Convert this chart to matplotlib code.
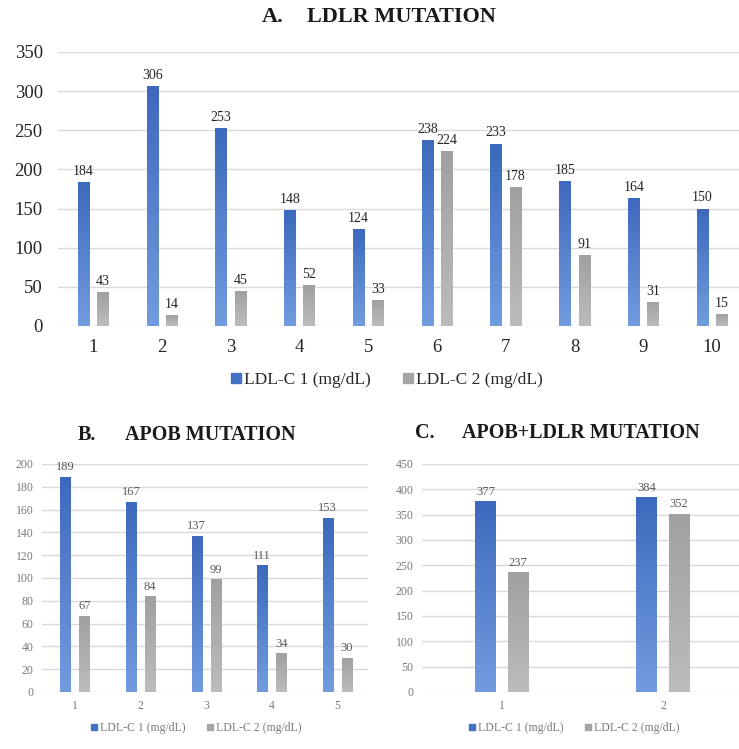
import numpy as np
import matplotlib
matplotlib.use("Agg")
import matplotlib.pyplot as plt
from matplotlib.colors import LinearSegmentedColormap

plt.rcParams['font.family'] = ['Liberation Serif', 'DejaVu Serif']

# ---- data ----
a_cats = ['1', '2', '3', '4', '5', '6', '7', '8', '9', '10']
a_ldl1 = [184, 306, 253, 148, 124, 238, 233, 185, 164, 150]
a_ldl2 = [43, 14, 45, 52, 33, 224, 178, 91, 31, 15]

b_cats = ['1', '2', '3', '4', '5']
b_ldl1 = [189, 167, 137, 111, 153]
b_ldl2 = [67, 84, 99, 34, 30]

c_cats = ['1', '2']
c_ldl1 = [377, 384]
c_ldl2 = [237, 352]

series_names = ['LDL-C 1 (mg/dL)', 'LDL-C 2 (mg/dL)']

BLUE = '#4472c4'
GRAY = '#a5a5a5'
blue_cmap = LinearSegmentedColormap.from_list('b', ['#729cdf', '#3c69bd'])
gray_cmap = LinearSegmentedColormap.from_list('g', ['#bcbcbc', '#a0a0a0'])
GRID = '#d9d9d9'


def gradient_bars(ax, x, h, width, cmap):
    bars = ax.bar(x, h, width, color='none', edgecolor='none', zorder=3)
    grad = np.linspace(0, 1, 256).reshape(-1, 1)
    for b in bars:
        x0, y0 = b.get_x(), b.get_y()
        w, hh = b.get_width(), b.get_height()
        im = ax.imshow(grad, cmap=cmap, origin='lower', aspect='auto',
                       extent=[x0, x0 + w, y0, y0 + hh], zorder=3)
        im.set_clip_path(b)
    return bars


def panel(ax, cats, v1, v2, ymax, step, xlim, off, width,
          tick_fs, val_fs, tick_col, val_col, ypad, xpad):
    x = np.arange(1, len(cats) + 1)
    gradient_bars(ax, x - off, v1, width, blue_cmap)
    gradient_bars(ax, x + off, v2, width, gray_cmap)
    for xi, a, b in zip(x, v1, v2):
        ax.text(xi - off, a + ymax * 0.015, str(a), ha='center', va='bottom',
                fontsize=val_fs, color=val_col, zorder=4)
        ax.text(xi + off, b + ymax * 0.015, str(b), ha='center', va='bottom',
                fontsize=val_fs, color=val_col, zorder=4)
    ax.set_xlim(*xlim)
    ax.set_ylim(0, ymax)
    ax.set_yticks(np.arange(0, ymax + 1, step))
    ax.set_xticks(x)
    ax.set_xticklabels(cats)
    ax.grid(axis='y', color=GRID, linewidth=1, zorder=0)
    ax.set_axisbelow(True)
    for s in ax.spines.values():
        s.set_visible(False)
    ax.tick_params(axis='both', length=0, labelsize=tick_fs, labelcolor=tick_col)
    ax.tick_params(axis='y', pad=ypad)
    ax.tick_params(axis='x', pad=xpad)


def legend(fig, x, y, fs, col, msize):
    handles = [plt.Line2D([], [], marker='s', linestyle='none', markersize=msize,
                          color=BLUE),
               plt.Line2D([], [], marker='s', linestyle='none', markersize=msize,
                          color=GRAY)]
    fig.legend(handles, series_names, loc='center', bbox_to_anchor=(x, y),
               ncol=2, frameon=False, fontsize=fs, labelcolor=col,
               handletextpad=0.0, columnspacing=1.6, handlelength=1.0)


fig = plt.figure(figsize=(7.39, 7.49), dpi=100)
W, H = 739, 749


def axes_px(l, r, top, bottom):
    return fig.add_axes([l / W, (H - bottom) / H, (r - l) / W, (bottom - top) / H])


# A. LDLR
axA = axes_px(58, 739, 52, 326)
panel(axA, a_cats, a_ldl1, a_ldl2, 350, 50, (0.491, 10.39), 0.14, 0.165,
      13.5, 10, '#262626', '#262626', 11, 9)
fig.text(262 / W, 1 - 17 / H, 'A.', ha='left', va='center',
         fontsize=16, fontweight='bold', color='#1a1a1a')
fig.text(401 / W, 1 - 17 / H, 'LDLR MUTATION', ha='center', va='center',
         fontsize=16, fontweight='bold', color='#1a1a1a')
legend(fig, 385 / W, 1 - 380 / H, 12.5, '#262626', 7)

# B. APOB
axB = axes_px(42, 368, 464, 692)
panel(axB, b_cats, b_ldl1, b_ldl2, 200, 20, (0.496, 5.47), 0.145, 0.155,
      8.5, 9, '#7a7a7a', '#595959', 6, 6)
fig.text(78 / W, 1 - 435 / H, 'B.', ha='left', va='center',
         fontsize=14.5, fontweight='bold', color='#1a1a1a')
fig.text(210 / W, 1 - 435 / H, 'APOB MUTATION', ha='center', va='center',
         fontsize=14.5, fontweight='bold', color='#1a1a1a')
legend(fig, 195 / W, 1 - 728 / H, 8.5, '#7a7a7a', 5)

# C. APOB+LDLR
axC = axes_px(422, 739, 464, 692)
panel(axC, c_cats, c_ldl1, c_ldl2, 450, 50, (0.503, 2.472), 0.1, 0.13,
      8.5, 9, '#7a7a7a', '#595959', 6, 6)
fig.text(415 / W, 1 - 433 / H, 'C.', ha='left', va='center',
         fontsize=14.5, fontweight='bold', color='#1a1a1a')
fig.text(581 / W, 1 - 433 / H, 'APOB+LDLR MUTATION', ha='center', va='center',
         fontsize=14.5, fontweight='bold', color='#1a1a1a')
legend(fig, 573 / W, 1 - 728 / H, 8.5, '#7a7a7a', 5)

fig.savefig('out.png', dpi=100)
